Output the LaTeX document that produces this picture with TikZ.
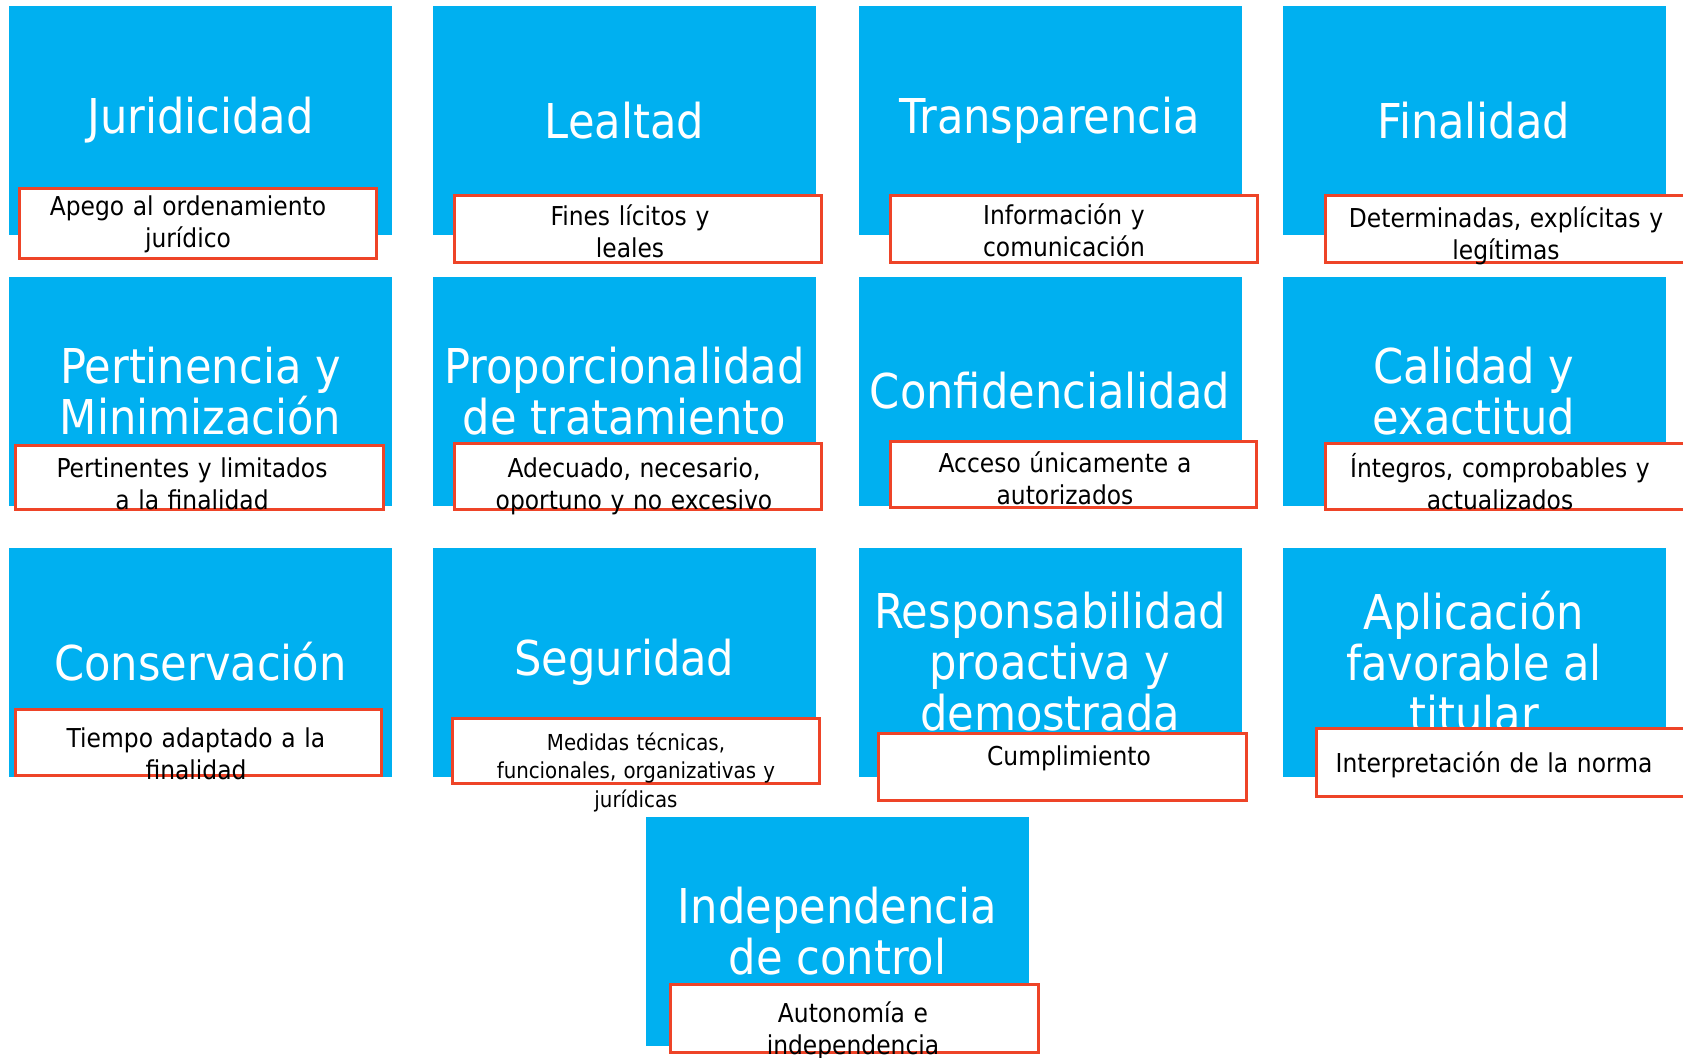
\documentclass[tikz,border=0pt]{standalone}
\usepackage{fontspec}
\setmainfont{DejaVu Sans Condensed}
\usepackage{xcolor}
\usepackage{tikz}
\usetikzlibrary{positioning}

\definecolor{azul}{RGB}{0,176,240}
\definecolor{rojo}{RGB}{238,68,40}

\begin{document}
\begin{tikzpicture}[x=1pt, y=-1pt,
    principio/.style={fill=azul, text=white, align=center, inner sep=0,
      minimum width=383pt, minimum height=229pt,
      font=\fontsize{48}{51}\selectfont},
    recuadro/.style={draw=rojo, line width=2.5pt, fill=white, inner sep=0,
      anchor=north west},
    nota/.style={text width=380pt, align=center, anchor=base, inner sep=0,
      font=\fontsize{26}{32}\selectfont}]
      \useasboundingbox (0,0) rectangle (1683,1057);

      % principios (bloques azules)
      \node[principio] (jur) at (200.5,120.5) {Juridicidad};
      \node[principio] (lea) at (624.5,120.5) {Lealtad};
      \node[principio] (tra) at (1050,120.5) {Transparencia};
      \node[principio] (fin) at (1474,120.5) {Finalidad};

      \node[principio] (per) at (200.5,391) {Pertinencia y\\Minimización};
      \node[principio] (pro) at (624.5,391) {Proporcionalidad\\de tratamiento};
      \node[principio] (con) at (1050,391) {Confidencialidad};
      \node[principio] (cal) at (1474,391) {Calidad y\\exactitud};

      \node[principio] (cns) at (200.5,662) {Conservación};
      \node[principio] (seg) at (624.5,662) {Seguridad};
      \node[principio] (res) at (1050,662) {Responsabilidad\\proactiva y\\demostrada};
      \node[principio] (apl) at (1474,662) {Aplicación\\favorable al\\titular};

      \node[principio] (ind) at (837.5,931.5) {Independencia\\de control};

      % recuadros rojos
      \node[recuadro, minimum width=357pt, minimum height=70pt] (jurR) at (18,187) {};
      \node[recuadro, minimum width=367pt, minimum height=67pt] (leaR) at (453,194) {};
      \node[recuadro, minimum width=367pt, minimum height=67pt] (traR) at (889,194) {};
      \node[recuadro, minimum width=367pt, minimum height=67pt] (finR) at (1324,194) {};

      \node[recuadro, minimum width=368pt, minimum height=64pt] (perR) at (14,444) {};
      \node[recuadro, minimum width=367pt, minimum height=66pt] (proR) at (453,442) {};
      \node[recuadro, minimum width=366pt, minimum height=66pt] (conR) at (889,440) {};
      \node[recuadro, minimum width=367pt, minimum height=66pt] (calR) at (1324,442) {};

      \node[recuadro, minimum width=366pt, minimum height=66pt] (cnsR) at (14,708) {};
      \node[recuadro, minimum width=367pt, minimum height=65pt] (segR) at (451,717) {};
      \node[recuadro, minimum width=368pt, minimum height=67pt] (resR) at (877,732) {};
      \node[recuadro, minimum width=374pt, minimum height=68pt] (aplR) at (1315,727) {};

      \node[recuadro, minimum width=368pt, minimum height=68pt] (indR) at (669,983) {};

      % textos de los recuadros
      \node[nota] (jurT) at (188,215) {Apego al ordenamiento\\jurídico};
      \node[nota] (leaT) at (630,225) {Fines lícitos y\\leales};
      \node[nota] (traT) at (1064,224) {Información y\\comunicación};
      \node[nota] (finT) at (1506,227) {Determinadas, explícitas y\\legítimas};

      \node[nota] (perT) at (192,477) {Pertinentes y limitados\\a la finalidad};
      \node[nota] (proT) at (634,477) {Adecuado, necesario,\\oportuno y no excesivo};
      \node[nota] (conT) at (1065,472) {Acceso únicamente a\\autorizados};
      \node[nota] (calT) at (1500,477) {Íntegros, comprobables y\\actualizados};

      \node[nota] (cnsT) at (196,747) {Tiempo adaptado a la\\finalidad};
      \node[nota, font=\fontsize{22}{28.5}\selectfont] (segT) at (636,750)
        {Medidas\ técnicas,\\funcionales,\ organizativas\ y\\jurídicas};
      \node[nota] (resT) at (1069,765) {Cumplimiento};
      \node[nota] (aplT) at (1494,772) {Interpretación de la norma};

      \node[nota] (indT) at (853,1022) {Autonomía e\\independencia};
\end{tikzpicture}
\end{document}
